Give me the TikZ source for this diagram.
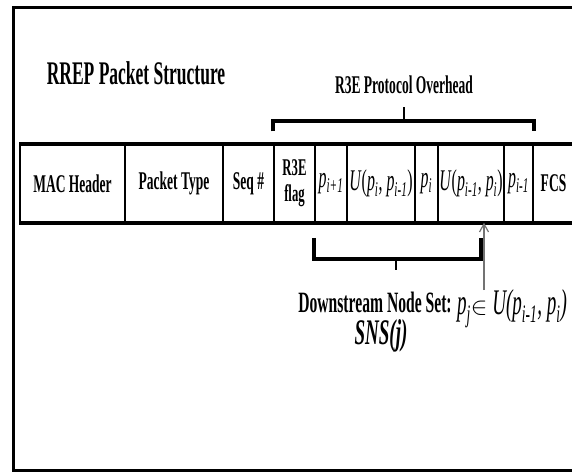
\documentclass[tikz,border=0pt]{standalone}
\usepackage{fontspec}
\setmainfont{Liberation Serif}[FakeStretch=0.53]
\usepackage{tikz}
\usetikzlibrary{positioning,arrows.meta,calc}

\newcommand{\pv}[1]{\textit{p}\textsubscript{\textit{#1}}}

\begin{document}
\begin{tikzpicture}[x=1pt, y=-1pt,
    cell/.style={draw, line width=1.5pt, minimum height=77, inner sep=0pt,
                 align=center, font=\fontsize{25.5}{25.5}\selectfont\bfseries},
    mcell/.style={cell, font=\fontsize{30}{30}\selectfont},
    brace/.style={line width=4pt},
    tick/.style={line width=1.2pt},
    ptr/.style={-{Straight Barb[length=8pt, width=9pt]}, line width=1.2pt, draw=black!55},
    lbl/.style={font=\fontsize{25.5}{25.5}\selectfont\bfseries, inner sep=0pt}]

    \useasboundingbox (0,0) rectangle (572,475);
    \clip (0,0) rectangle (572,475);

    % outer frame
    \draw[line width=3pt] (13,7) rectangle (640,470);

    % === title ===
    \node[lbl, font=\fontsize{33}{33}\selectfont\bfseries] (title) at (136,73) {RREP Packet Structure};

    % === packet fields ===
    \node[cell, minimum width=105] (mac)   at (72.5,183.5) {MAC Header};
    \node[cell, minimum width=98]  (ptype) at (174,183.5)  {Packet Type};
    \node[cell, minimum width=51]  (seq)   at (248.5,183.5) {Seq \#};
    \node[cell, minimum width=41, font=\fontsize{24}{26}\selectfont\bfseries] (flag) at (294.5,183.5) {R3E\\flag};
    \node[mcell, minimum width=32] (pnext) at (331,183.5)  {\pv{i+1}};
    \node[mcell, minimum width=68] (unext) at (381,183.5)  {\textit{U}(\pv{i}, \pv{i-1})};
    \node[mcell, minimum width=23] (pcur)  at (426.5,183.5) {\pv{i}};
    \node[mcell, minimum width=66] (uprev) at (471,183.5)  {\textit{U}(\pv{i-1}, \pv{i})};
    \node[mcell, minimum width=29] (pprev) at (518.5,183.5) {\pv{i-1}};
    \node[cell, minimum width=41]  (fcs)   at (553.5,183.5) {FCS};

    \draw[line width=4pt] (mac.north west) -- ($(fcs.north east)+(30,0)$);
    \draw[line width=4pt] (mac.south west) -- ($(fcs.south east)+(30,0)$);

    % === TOP: protocol overhead ===
    \node[lbl] (ovh) at (404,85) {R3E Protocol Overhead};
    \draw[brace] ($(flag.north west)+(0,-13)$) -- ++(0,-10) -| ($(pprev.north east)+(0,-13)$);
    \coordinate (topmid) at (404,122);
    \draw[tick] (topmid) -- ++(0,-15);

    % === BOTTOM: downstream node set ===
    \draw[brace] ($(pnext.south west)+(0,15)$) -- ++(0,21) -| ($(uprev.south east)+(-24,15)$);
    \coordinate (botmid) at (396,258);
    \draw[tick] (botmid) -- ++(0,12);

    \node[lbl, font=\fontsize{29.5}{29.5}\selectfont\bfseries] (dns) at (375,302) {Downstream Node Set:};
    \node[lbl, font=\fontsize{36}{36}\selectfont\bfseries\itshape] (sns) at (381,336) {SNS(j)};

    \node[lbl, font=\fontsize{36}{36}\selectfont\itshape, anchor=west] (memb) at (457,309)
      {\pv{j}$\in$ U(\pv{i-1}, \pv{i})};

    \coordinate (tail) at (484,290);
    \draw[ptr] (tail) -- (tail |- uprev.south);

\end{tikzpicture}
\end{document}
